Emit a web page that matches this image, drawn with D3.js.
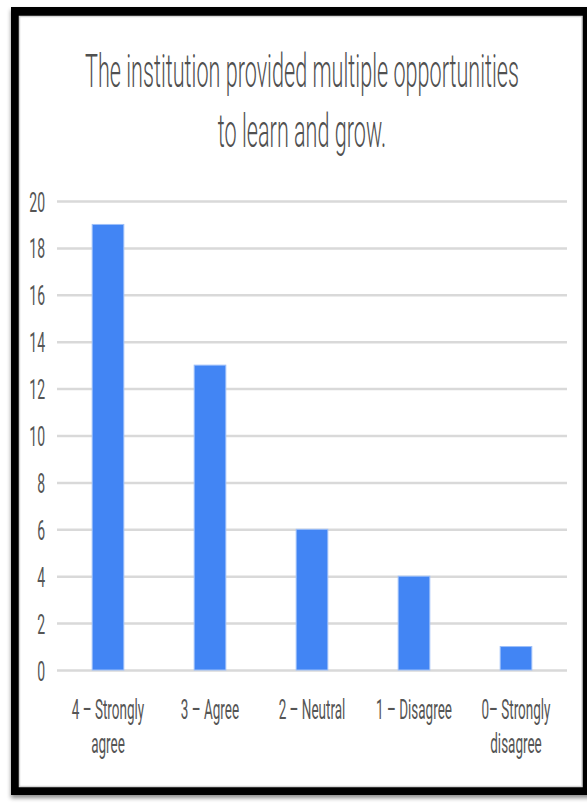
<!DOCTYPE html>
<html>
<head>
<meta charset="utf-8">
<script src="https://cdn.jsdelivr.net/npm/d3@7"></script>
<style>
  html, body { margin: 0; padding: 0; background: #ffffff; }
  svg { display: block; }
  text { font-family: Roboto, "Noto Sans", sans-serif; }
</style>
</head>
<body>
<script>
// Survey responses
const categories = ["4 – Strongly agree", "3 – Agree", "2 – Neutral", "1 – Disagree", "0– Strongly disagree"];
const labelLines = [["4 – Strongly", "agree"], ["3 – Agree"], ["2 – Neutral"], ["1 – Disagree"], ["0– Strongly", "disagree"]];
const counts = [19, 13, 6, 4, 1];
const yTicks = [0, 2, 4, 6, 8, 10, 12, 14, 16, 18, 20];
const titleLines = ["The institution provided multiple opportunities", "to learn and grow."];

const W = 587, H = 803;
const TEXT_SX = 0.5;   // narrow horizontal text scale for axis labels
const TITLE_SX = 0.46; // narrow horizontal text scale for the title

const svg = d3.select("body").append("svg")
  .attr("width", W).attr("height", H);

const defs = svg.append("defs");
const sh = defs.append("filter").attr("id", "shadow")
  .attr("x", "-5%").attr("y", "-5%").attr("width", "110%").attr("height", "110%");
sh.append("feDropShadow").attr("dx", 0).attr("dy", 3).attr("stdDeviation", 2)
  .attr("flood-color", "#000").attr("flood-opacity", 0.45);

// Frame
svg.append("rect").attr("x", 11).attr("y", 7).attr("width", 590).attr("height", 788)
  .attr("fill", "#000").attr("filter", "url(#shadow)");
svg.append("rect").attr("x", 19.5).attr("y", 16.5).attr("width", 562.5).attr("height", 770)
  .attr("fill", "#fff").attr("stroke", "#d6d6d6").attr("stroke-width", 1.5);

// Scales
const x = d3.scaleBand().domain(categories).range([57, 567])
  .paddingInner(0.69).paddingOuter(0.345);
const y = d3.scaleLinear().domain([0, 20]).range([670, 201]);

// Narrow text helper: scale horizontally around the anchor point
function narrow(sel, sx) {
  sel.attr("transform", function () {
    const tx = +this.getAttribute("x"), ty = +this.getAttribute("y");
    return `translate(${tx},${ty}) scale(${sx},1) translate(${-tx},${-ty})`;
  });
}

// Title
svg.append("g").selectAll("text").data(titleLines).join("text")
  .attr("x", 302).attr("y", (d, i) => 87 + i * 60)
  .attr("text-anchor", "middle")
  .attr("font-size", 47).attr("font-weight", 300).attr("fill", "#505050")
  .text(d => d)
  .call(narrow, TITLE_SX);

// Gridlines + y labels via axis
const yAxis = d3.axisLeft(y).tickValues(yTicks).tickSize(-(567 - 57)).tickPadding(12);
const gy = svg.append("g").attr("transform", "translate(57,0)").call(yAxis);
gy.select(".domain").remove();
gy.selectAll(".tick line").attr("stroke", "#d9d9d9").attr("stroke-width", 2.5);
gy.selectAll(".tick text")
  .attr("font-size", 28).attr("fill", "#555").attr("dy", "0.36em")
  .attr("font-family", "Roboto, sans-serif")
  .each(function () {
    const t = d3.select(this);
    const tx = -12;
    t.attr("transform", `translate(${tx},0) scale(${TEXT_SX},1) translate(${-tx},0)`);
  });

// Bars
svg.append("g").selectAll("rect").data(counts).join("rect")
  .attr("x", (d, i) => x(categories[i]))
  .attr("y", d => y(d))
  .attr("width", x.bandwidth())
  .attr("height", d => y(0) - y(d))
  .attr("fill", "#4285f4")
  .attr("stroke", "#9dbff9").attr("stroke-width", 1);

// X labels
const gx = svg.append("g");
labelLines.forEach((lines, i) => {
  const cx = x(categories[i]) + x.bandwidth() / 2;
  lines.forEach((ln, j) => {
    gx.append("text")
      .attr("x", cx).attr("y", 719 + j * 34)
      .attr("text-anchor", "middle")
      .attr("font-size", 27).attr("fill", "#555")
      .text(ln)
      .call(narrow, TEXT_SX);
  });
});
</script>
</body>
</html>
